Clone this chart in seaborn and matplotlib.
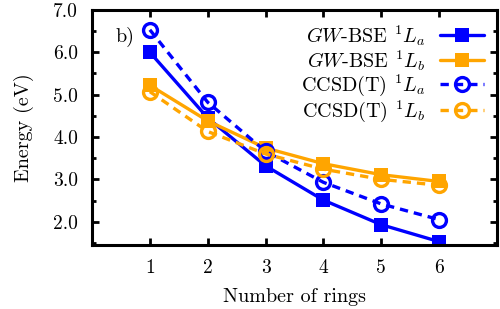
import matplotlib
matplotlib.use("Agg")
import matplotlib.pyplot as plt
import seaborn as sns
import numpy as np
from matplotlib.ticker import MultipleLocator, FormatStrFormatter

rings = [1, 2, 3, 4, 5, 6]
gw_La = [6.00, 4.45, 3.32, 2.51, 1.93, 1.53]
gw_Lb = [5.22, 4.38, 3.74, 3.37, 3.11, 2.95]
cc_La = [6.53, 4.82, 3.66, 2.93, 2.42, 2.05]
cc_Lb = [5.07, 4.13, 3.60, 3.24, 3.00, 2.86]
labels = [r"$GW$-BSE $^1L_a$", r"$GW$-BSE $^1L_b$",
          r"CCSD(T) $^1L_a$", r"CCSD(T) $^1L_b$"]

sns.set_style("ticks", {"axes.edgecolor": "black", "xtick.color": "black",
                        "ytick.color": "black", "text.color": "black",
                        "axes.labelcolor": "black"})
plt.rcParams['font.family'] = 'serif'
plt.rcParams['font.serif'] = ['cmr10', 'DejaVu Serif']
plt.rcParams['mathtext.fontset'] = 'cm'
plt.rcParams['axes.unicode_minus'] = False

fig = plt.figure(figsize=(5.0, 3.09), dpi=100)
ax = fig.add_axes([0.184, 0.207, 0.81, 0.761])

blue = '#0000FF'
orange = '#FFA500'
lw = 2.4
ms = 10
sns.lineplot(x=rings, y=gw_La, ax=ax, color=blue, lw=lw, marker='s', markersize=ms,
             markeredgewidth=0, label=labels[0])
sns.lineplot(x=rings, y=gw_Lb, ax=ax, color=orange, lw=lw, marker='s', markersize=ms,
             markeredgewidth=0, label=labels[1])
sns.lineplot(x=rings, y=cc_La, ax=ax, color=blue, lw=lw, marker='o', markersize=ms,
             markerfacecolor='none', markeredgewidth=2.4, markeredgecolor=blue,
             dashes=(2.5, 1.8), label=labels[2])
sns.lineplot(x=rings, y=cc_Lb, ax=ax, color=orange, lw=lw, marker='o', markersize=ms,
             markerfacecolor='none', markeredgewidth=2.4, markeredgecolor=orange,
             dashes=(2.5, 1.8), label=labels[3])

ax.set_xlim(0, 7)
ax.set_ylim(1.45, 7.0)
ax.set_xticks(rings)
ax.yaxis.set_major_locator(MultipleLocator(1.0))
ax.yaxis.set_minor_locator(MultipleLocator(0.5))
ax.yaxis.set_major_formatter(FormatStrFormatter('%.1f'))
ax.tick_params(direction='in', which='both', top=True, right=True, labelsize=14,
               width=2, length=5, pad=10, colors='black')
ax.tick_params(which='minor', length=3)
for s in ax.spines.values():
    s.set_linewidth(2.2)
    s.set_color('black')
ax.set_xlabel("Number of rings", fontsize=14.5, labelpad=8, color='black')
ax.set_ylabel("Energy (eV)", fontsize=14.5, labelpad=14, color='black')
ax.text(0.4, 6.35, "b)", fontsize=14.5, va='center', ha='left', color='black')

leg = ax.legend(loc='upper right', markerfirst=False, frameon=False, fontsize=14.5,
                handlelength=2.2, labelspacing=0.0, borderaxespad=0.25,
                handletextpad=0.7)
for t in leg.get_texts():
    t.set_color('black')
fig.savefig("out.png", dpi=100)
